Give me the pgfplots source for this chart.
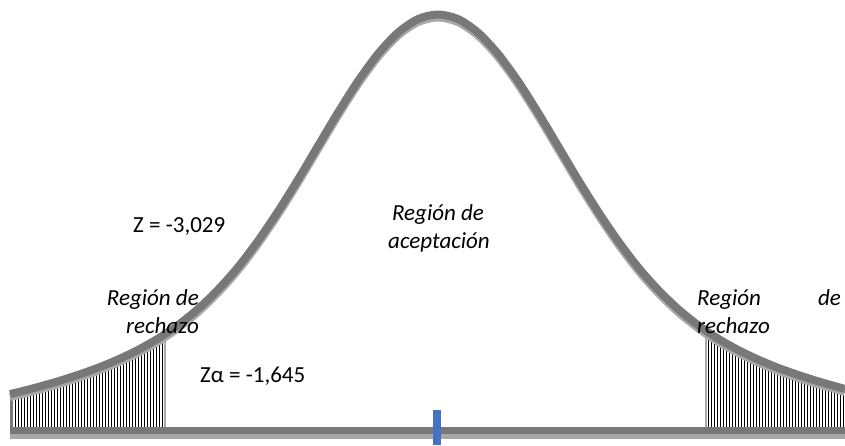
\documentclass[border=0pt]{standalone}
\usepackage{pgfplots}
\pgfplotsset{compat=1.18}
\usepgfplotslibrary{fillbetween}
\usetikzlibrary{patterns.meta}
\usepackage{fontspec}
\setmainfont{Carlito}
\definecolor{darkg}{HTML}{787878}
\definecolor{lightg}{HTML}{A8A8A8}
\definecolor{tickblue}{HTML}{4472C4}
% curve read in pixels (smoothed): x, height = 445 - pixel row
\pgfplotstableread{
x y
10 51.0
18 52.8
38 58.0
58 63.7
78 70.1
98 77.2
118 85.5
138 95.1
158 106.4
178 119.9
198 136.0
218 155.3
238 177.8
258 204.1
278 233.5
298 265.4
318 299.0
338 332.4
358 363.8
378 391.1
398 412.4
418 425.9
438 430.5
458 425.9
478 412.4
498 391.1
518 363.8
538 332.4
558 299.0
578 265.4
598 233.5
618 204.1
638 177.8
658 155.3
678 136.0
698 119.9
718 106.4
738 95.1
758 85.5
778 77.2
798 70.1
818 63.7
838 58.0
845 56.0
}\curvedata
\pgfplotstableread{
x y
10 14.5
845 14.5
}\basedata
\begin{document}
\begin{tikzpicture}
\begin{axis}[scale only axis, width=845pt, height=445pt,
  xmin=0, xmax=845, ymin=0, ymax=445, hide axis]
\addplot[name path=curve, draw=none, smooth] table {\curvedata};
\addplot[name path=base, draw=none] table {\basedata};
\addplot[draw=none, pattern={Lines[angle=90,distance=3pt,line width=1pt]}, pattern color=black]
  fill between[of=curve and base, soft clip={domain=12:164}];
\addplot[draw=none, pattern={Lines[angle=90,distance=3pt,line width=1pt]}, pattern color=black]
  fill between[of=curve and base, soft clip={domain=706:845}];
% hatch edges
\addplot[darkg, line width=3pt] coordinates {(11.5,14) (11.5,52)};
\addplot[lightg, line width=2pt] coordinates {(165,14) (165,111)};
\addplot[lightg, line width=2pt] coordinates {(706,14) (706,114)};
% baseline
\addplot[lightg, line width=6pt] coordinates {(10,9) (845,9)};
\addplot[darkg, line width=7pt] coordinates {(10,14.5) (845,14.5)};
% curve
\addplot[lightg, line width=8pt, smooth, yshift=-3pt] table {\curvedata};
\addplot[darkg, line width=8pt, smooth] table {\curvedata};
% blue tick
\addplot[tickblue, line width=8pt] coordinates {(437,0) (437,35)};
% bounding
\path (rel axis cs:0,0) rectangle (rel axis cs:1,1);
% labels
\node[anchor=base west, font=\fontsize{23}{27}\selectfont, inner sep=0pt] at (axis cs:133,213) {Z = -3,029};
\node[anchor=base west, font=\fontsize{23}{27}\selectfont, inner sep=0pt] at (axis cs:200,63) {Zα = -1,645};
\node[anchor=base east, font=\fontsize{23}{27}\selectfont\itshape, inner sep=0pt] at (axis cs:199,140) {Región de};
\node[anchor=base east, font=\fontsize{23}{27}\selectfont\itshape, inner sep=0pt] at (axis cs:199,112) {rechazo};
\node[anchor=base, font=\fontsize{23}{27}\selectfont\itshape, inner sep=0pt] at (axis cs:438,225) {Región de};
\node[anchor=base, font=\fontsize{23}{27}\selectfont\itshape, inner sep=0pt] at (axis cs:439,197) {aceptación};
\node[anchor=base west, font=\fontsize{23}{27}\selectfont\itshape, inner sep=0pt] at (axis cs:697,140) {Región};
\node[anchor=base east, font=\fontsize{23}{27}\selectfont\itshape, inner sep=0pt] at (axis cs:841,140) {de};
\node[anchor=base west, font=\fontsize{23}{27}\selectfont\itshape, inner sep=0pt] at (axis cs:697,112) {rechazo};
\end{axis}
\end{tikzpicture}
\end{document}
